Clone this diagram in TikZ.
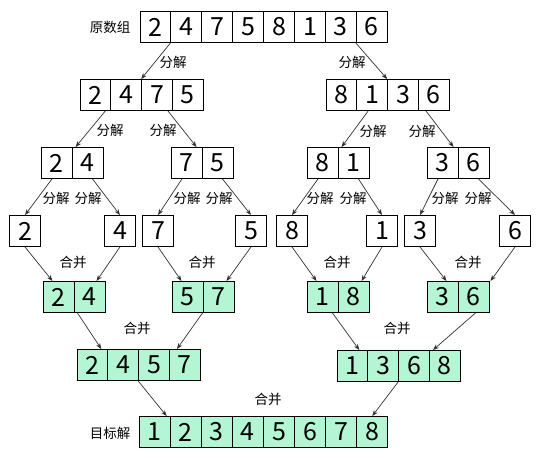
\documentclass[tikz,border=0pt]{standalone}
\usepackage{fontspec}
\setmainfont{Noto Sans CJK SC}
\usetikzlibrary{arrows.meta,calc}
\definecolor{mint}{RGB}{180,246,212}
\definecolor{arr}{RGB}{50,50,50}
\tikzset{
  cell/.style={draw=black, line width=0.9pt, minimum width=#1, minimum height=31pt, inner sep=0pt,
    font=\fontsize{25}{27}\selectfont, anchor=center},
  cell/.default=31pt,
  merged/.style={fill=mint},
  lbl/.style={font=\fontsize{13.5}{15}\selectfont, inner sep=0pt},
  conn/.style={draw=arr, line width=0.7pt, -{Stealth[length=6pt,width=4.5pt]}},
}
\newcommand{\cellrow}[6]{% name, x0, yc, width, style, digits
  \foreach \d [count=\i] in {#6}
    \node[cell=#4pt, #5] (#1\i) at ({#2+(\i-0.5)*#4}, #3) {\d};
}
\begin{document}
\begin{tikzpicture}[x=1pt, y=-1pt]
\useasboundingbox (0,0) rectangle (540,460);
% row 0
\node[lbl] (l0) at (110,27) {原数组};
\cellrow{r0c}{140}{27}{30.9}{}{2,4,7,5,8,1,3,6}
% row 1
\cellrow{ra}{80}{95}{30.8}{}{2,4,7,5}
\cellrow{rb}{326}{95}{30.8}{}{8,1,3,6}
% row 2
\cellrow{sa}{41}{163}{31}{}{2,4}
\cellrow{sb}{171}{163}{31}{}{7,5}
\cellrow{sc}{307}{163}{31}{}{8,1}
\cellrow{sd}{427}{163}{31}{}{3,6}
% row 3
\node[cell] (t1) at (25,231) {2};
\node[cell] (t2) at (120,231) {4};
\node[cell] (t3) at (158,231) {7};
\node[cell] (t4) at (251,231) {5};
\node[cell] (t5) at (292,231) {8};
\node[cell] (t6) at (382,231) {1};
\node[cell] (t7) at (420,231) {3};
\node[cell] (t8) at (515,231) {6};
% row 4
\cellrow{ga}{43}{297}{31}{merged}{2,4}
\cellrow{gb}{172}{297}{31}{merged}{5,7}
\cellrow{gc}{307}{297}{31}{merged}{1,8}
\cellrow{gd}{427}{297}{31}{merged}{3,6}
% row 5
\cellrow{ha}{77}{365}{30.8}{merged}{2,4,5,7}
\cellrow{hb}{337}{366}{30.8}{merged}{1,3,6,8}
% row 6
\node[lbl] (l6) at (110,433) {目标解};
\cellrow{f}{139}{432}{31.1}{merged}{1,2,3,4,5,6,7,8}

% arrows row0 -> row1
\draw[conn] (r0c2.south west) -- (ra3.north west);
\draw[conn] (r0c8.south west) -- (rb3.north west);
\node[lbl] (d1) at (173,62) {分解};
\node[lbl] (d2) at (352,62) {分解};
% row1 -> row2
\draw[conn] ([xshift=-5pt]ra2.south west) -- ([xshift=4pt]sa2.north west);
\draw[conn] ([xshift=-4pt]ra4.south west) -- ([xshift=-5pt]sb2.north west);
\draw[conn] ([xshift=-4pt]rb2.south) -- ([xshift=4pt]sc2.north west);
\draw[conn] ([xshift=8pt]rb4.south west) -- ([xshift=-4pt]sd2.north west);
\node[lbl] (d3) at (110,130) {分解};
\node[lbl] (d4) at (163,130) {分解};
\node[lbl] (d5) at (373,131) {分解};
\node[lbl] (d6) at (422,131) {分解};
% row2 -> row3
\draw[conn] ([xshift=-4.5pt]sa1.south) -- (t1.north);
\draw[conn] ([xshift=5pt]sa2.south) -- (t2.north);
\draw[conn] ([xshift=-4.5pt]sb1.south) -- (t3.north);
\draw[conn] ([xshift=5pt]sb2.south) -- (t4.north);
\draw[conn] ([xshift=-4.5pt]sc1.south) -- (t5.north);
\draw[conn] ([xshift=5pt]sc2.south) -- (t6.north);
\draw[conn] ([xshift=-4.5pt]sd1.south) -- (t7.north);
\draw[conn] ([xshift=5pt]sd2.south) -- (t8.north);
\node[lbl] (e1) at (56,198) {分解};
\node[lbl] (e2) at (88,198) {分解};
\node[lbl] (e3) at (187,198) {分解};
\node[lbl] (e4) at (219,198) {分解};
\node[lbl] (e5) at (320,198) {分解};
\node[lbl] (e6) at (353,198) {分解};
\node[lbl] (e7) at (445,198) {分解};
\node[lbl] (e8) at (478,198) {分解};
% row3 -> row4
\draw[conn] (t1.south) -- ([xshift=-6pt]ga1.north);
\draw[conn] (t2.south) -- ([xshift=7pt]ga2.north);
\draw[conn] (t3.south) -- ([xshift=-6pt]gb1.north);
\draw[conn] (t4.south) -- ([xshift=8pt]gb2.north);
\draw[conn] (t5.south) -- ([xshift=-6pt]gc1.north);
\draw[conn] (t6.south) -- ([xshift=8pt]gc2.north);
\draw[conn] (t7.south) -- ([xshift=4pt]gd1.north);
\draw[conn] (t8.south) -- ([xshift=17pt]gd2.north);
\node[lbl] (m1) at (73,262) {合并};
\node[lbl] (m2) at (202,262) {合并};
\node[lbl] (m3) at (337,262) {合并};
\node[lbl] (m4) at (468,262) {合并};
% row4 -> row5
\draw[conn] ([xshift=3pt]ga1.south east) -- ([xshift=-6pt]ha2.north west);
\draw[conn] ([xshift=0pt]gb2.south west) -- ([xshift=8pt]ha4.north west);
\draw[conn] ([xshift=-6pt]gc1.south east) -- ([xshift=-8pt]hb2.north west);
\draw[conn] ([xshift=2pt]gd2.south) -- ([xshift=4pt]hb4.north west);
\node[lbl] (m5) at (137,328) {合并};
\node[lbl] (m6) at (397,328) {合并};
% row5 -> row6
\draw[conn] (ha3.south west) -- ([xshift=-3pt]f2.north west);
\draw[conn] (hb3.south west) -- (f8.north);
\node[lbl] (m7) at (268,399) {合并};
\end{tikzpicture}
\end{document}
